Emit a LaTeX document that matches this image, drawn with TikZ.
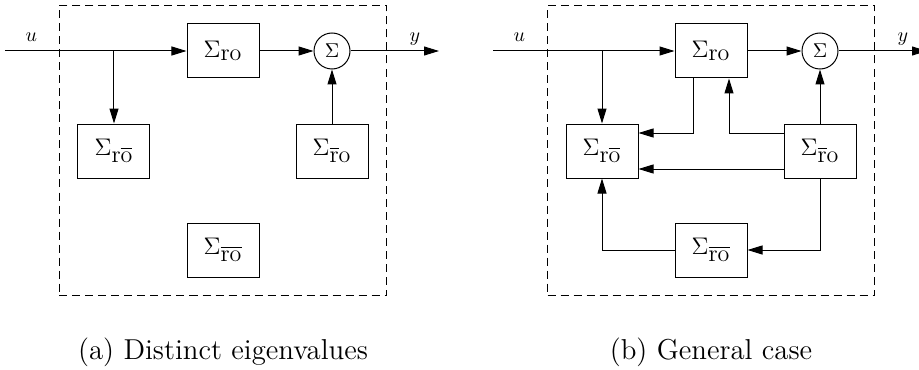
\documentclass[tikz,border=0pt]{standalone}
\usepackage{amsmath}
\usepackage{tikz}
\usetikzlibrary{arrows.meta,positioning,fit,calc}
\newcommand{\sro}{\Sigma_{\textstyle\mathrm{ro}}}
\newcommand{\srob}{\Sigma_{\textstyle\mathrm{r}\overline{\mathrm{o}}}}
\newcommand{\srbo}{\Sigma_{\textstyle\overline{\mathrm{r}}\mathrm{o}}}
\newcommand{\srbob}{\Sigma_{\textstyle\overline{\mathrm{ro}}}}

\begin{document}
\begin{tikzpicture}[
      line width=0.5pt,
      box/.style={draw,minimum width=36pt,minimum height=27pt,inner sep=0pt,font=\large},
      sum/.style={draw,circle,minimum size=18pt,inner sep=0pt},
      arrow/.style={-{Triangle[length=7.5pt,width=4.5pt]}},
      frame/.style={draw,dash pattern=on 4pt off 2.5pt,inner sep=9pt},
      sig/.style={anchor=base,yshift=4.5pt},
      caption/.style={font=\Large}
    ]
    \useasboundingbox (-111.5pt,25.5pt) rectangle (348pt,-159pt);
    \node[box] (aro) at (0,0) {$\sro$};
    \node[sum,right=27pt of aro] (asum) {$\Sigma$};
    \node[box,below left=22.5pt and 18pt of aro] (arob) {$\srob$};
    \node[box,below right=22.5pt and 18pt of aro] (arbo) {$\srbo$};
    \node[box,below=72pt of aro] (arbob) {$\srbob$};
    \node[frame,fit=(aro)(arob)(arbo)(arbob)] (aframe) {};
    \coordinate (ain) at ($(aframe.west |- aro)+(-27pt,0)$);
    \coordinate (aout) at ($(aframe.east |- asum)+(26pt,0)$);
    \draw[arrow] (ain) -- node[sig,pos=0.145] {$u$} (aro);
    \draw[arrow] (arob |- aro) -- (arob);
    \draw[arrow] (aro) -- (asum);
    \draw[arrow] (arbo) -- (asum);
    \draw[arrow] (asum) -- node[sig,pos=0.727] {$y$} (aout);
    \node[caption,below=17.4pt of aframe] (acap) {(a) Distinct eigenvalues};

    \node[box] (bro) at (244pt,0) {$\sro$};
    \node[sum,right=27pt of bro] (bsum) {$\Sigma$};
    \node[box,below left=22.5pt and 18pt of bro] (brob) {$\srob$};
    \node[box,below right=22.5pt and 18pt of bro] (brbo) {$\srbo$};
    \node[box,below=72pt of bro] (brbob) {$\srbob$};
    \node[frame,fit=(bro)(brob)(brbo)(brbob)] (bframe) {};
    \coordinate (bin) at ($(bframe.west |- bro)+(-27pt,0)$);
    \coordinate (bout) at ($(bframe.east |- bsum)+(26pt,0)$);
    \draw[arrow] (bin) -- node[sig,pos=0.145] {$u$} (bro);
    \draw[arrow] (brob |- bro) -- (brob);
    \draw[arrow] (bro) -- (bsum);
    \draw[arrow] (brbo) -- (bsum);
    \draw[arrow] (bsum) -- node[sig,pos=0.727] {$y$} (bout);
    \draw[arrow] ([xshift=-9pt]bro.south) |- ([yshift=9pt]brob.east);
    \draw[arrow] ([yshift=9pt]brbo.west) -| ([xshift=9pt]bro.south);
    \draw[arrow] ([yshift=-9pt]brbo.west) -- ([yshift=-9pt]brob.east);
    \draw[arrow] (brbo.south) |- (brbob.east);
    \draw[arrow] (brbob.west) -| (brob.south);
    \node[caption,below=17.4pt of bframe] (bcap) {(b) General case};
  \end{tikzpicture}
\end{document}
